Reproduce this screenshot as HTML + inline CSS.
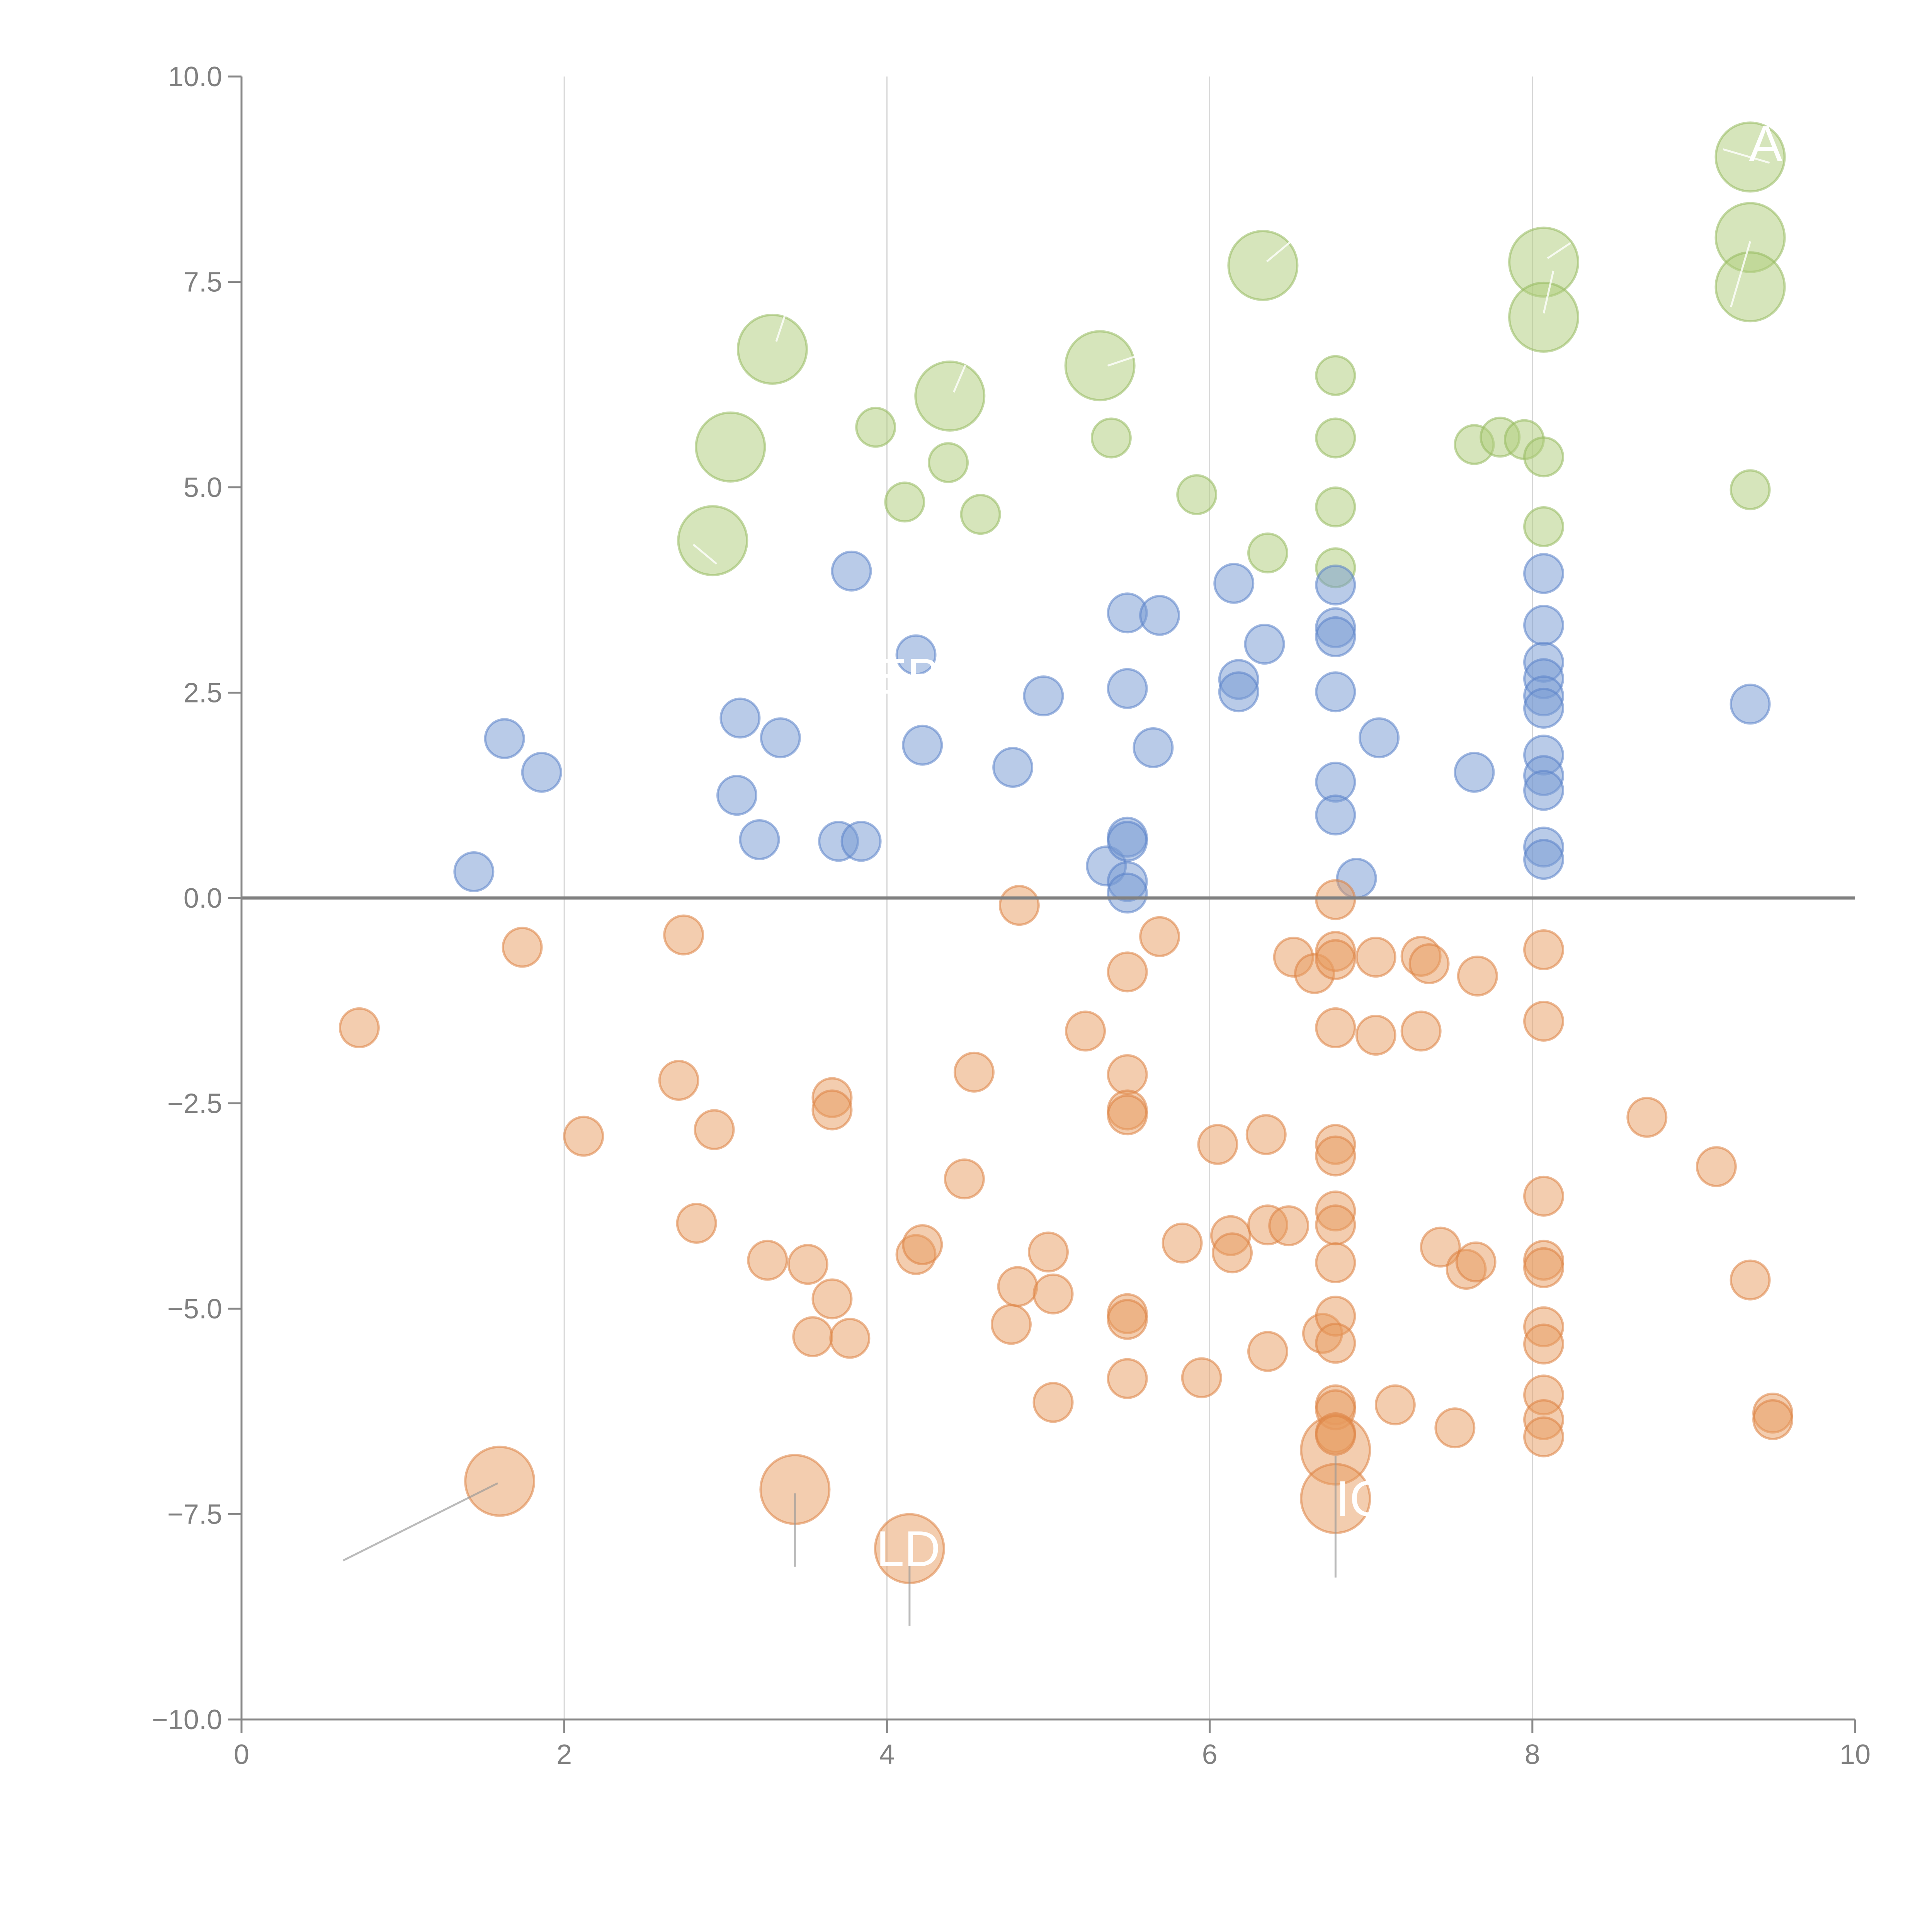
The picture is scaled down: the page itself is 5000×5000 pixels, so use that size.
<!DOCTYPE html>
<html><head><meta charset="utf-8"><style>html,body{margin:0;padding:0;background:#fff}svg{display:block}</style></head>
<body>
<svg id="chart" width="5000" height="5000" viewBox="0 0 5000 5000" xmlns="http://www.w3.org/2000/svg">
<g id="grid"></g>
<g id="marks"></g>
<g id="axes"></g>
<g id="ann"></g>
</svg>
<script>
const xTicks=[0,2,4,6,8,10];
const yTicks=[10,7.5,5,2.5,0,-2.5,-5,-7.5,-10];
const yTickLabels=["10.0","7.5","5.0","2.5","0.0","\u22122.5","\u22125.0","\u22127.5","\u221210.0"];
const greenX=[3.93,4.11,4.38,4.58,5.39,5.92,6.36,6.78,6.78,6.78,6.78,7.64,7.80,7.95,8.07,8.07,9.35];
const greenY=[5.73,4.82,5.30,4.67,5.60,4.91,4.20,6.36,5.60,4.76,4.02,5.52,5.61,5.58,5.37,4.52,4.97];
const greenBigX=[2.92,3.03,3.29,4.39,5.32,6.33,8.07,8.07,9.35,9.35,9.35];
const greenBigY=[4.35,5.49,6.68,6.11,6.48,7.70,7.74,7.07,9.02,8.04,7.44];
const blueX=[1.44,1.63,1.86,3.07,3.09,3.21,3.34,3.70,3.84,3.78,4.18,4.22,4.78,4.97,5.36,5.49,5.49,5.49,5.49,5.49,5.49,5.65,5.69,6.15,6.18,6.18,6.34,6.78,6.78,6.78,6.78,6.78,6.78,6.91,7.05,7.64,8.07,8.07,8.07,8.07,8.07,8.07,8.07,8.07,8.07,8.07,8.07,9.35];
const blueY=[0.32,1.94,1.53,1.25,2.19,0.71,1.95,0.69,0.69,3.98,2.96,1.86,1.59,2.46,0.39,3.47,2.55,0.74,0.69,0.20,0.06,1.83,3.44,3.83,2.66,2.51,3.09,3.81,3.29,3.18,2.51,1.41,1.01,0.24,1.95,1.53,3.95,3.32,2.87,2.67,2.46,2.31,1.74,1.49,1.31,0.62,0.47,2.36];
const orangeX=[0.73,1.74,2.12,2.71,2.74,2.82,2.93,3.26,3.51,3.54,3.66,3.66,3.66,3.77,4.18,4.22,4.48,4.54,4.77,4.81,4.82,5.00,5.03,5.03,5.23,5.49,5.49,5.49,5.49,5.49,5.49,5.49,5.69,5.83,5.95,6.05,6.13,6.14,6.35,6.36,6.36,6.49,6.52,6.65,6.70,6.78,6.78,6.78,6.78,6.78,6.78,6.78,6.78,6.78,6.78,6.78,6.78,6.78,6.78,6.78,7.03,7.03,7.15,7.31,7.31,7.36,7.43,7.52,7.59,7.65,7.66,8.07,8.07,8.07,8.07,8.07,8.07,8.07,8.07,8.07,8.07,8.71,9.14,9.35,9.49,9.49];
const orangeY=[-1.58,-0.60,-2.90,-2.22,-0.45,-3.96,-2.82,-4.41,-4.46,-5.34,-2.43,-2.58,-4.88,-5.36,-4.34,-4.22,-3.42,-2.12,-5.19,-4.73,-0.09,-4.31,-4.82,-6.14,-1.62,-0.90,-2.15,-2.58,-2.64,-5.06,-5.13,-5.85,-0.47,-4.20,-5.84,-3.00,-4.11,-4.32,-2.88,-3.98,-5.52,-3.99,-0.72,-0.92,-5.30,-0.02,-0.65,-0.75,-1.58,-3.00,-3.14,-3.81,-3.98,-4.44,-5.09,-5.42,-6.17,-6.23,-6.51,-6.54,-0.72,-1.67,-6.17,-0.71,-1.62,-0.80,-4.25,-6.45,-4.52,-4.43,-0.95,-0.63,-1.50,-3.63,-4.41,-4.50,-5.22,-5.43,-6.05,-6.35,-6.56,-2.67,-3.27,-4.65,-6.27,-6.35];
const orangeBigX=[1.60,3.43,4.14,6.78,6.78];
const orangeBigY=[-7.10,-7.20,-7.92,-6.72,-7.31];

const X0=625,X1=4801,Y0=198,Y1=4450;
function sx(v){return X0+(v-0)/(10-0)*(X1-X0);}
function sy(v){return Y0+(10-v)/(20)*(Y1-Y0);}
const NS="http://www.w3.org/2000/svg";
function mk(tag,attrs,parent){const e=document.createElementNS(NS,tag);for(const k in attrs)e.setAttribute(k,attrs[k]);parent.appendChild(e);return e;}
const grid=document.getElementById('grid'),marks=document.getElementById('marks'),axes=document.getElementById('axes'),ann=document.getElementById('ann');

xTicks.slice(1,5).forEach(t=>{
  const l=mk('line',{x1:sx(t),x2:sx(t),y1:Y0,y2:Y1,stroke:'#d6d6d6','stroke-width':3},grid);
  
  
});

function drawSeries(xs,ys,r,fill,stroke,name){
  xs.forEach((x,i)=>{
    const c=mk('circle',{cx:sx(x),cy:sy(ys[i]),r:r,fill:fill,stroke:stroke,'stroke-width':6},marks);
    
    
  });
}
const gF='rgba(176,205,125,0.52)',gS='rgba(150,185,95,0.55)';
const bF='rgba(120,155,210,0.52)',bS='rgba(90,130,200,0.55)';
const oF='rgba(232,155,95,0.5)',oS='rgba(220,130,65,0.55)';
drawSeries(greenBigX,greenBigY,89,gF,gS,'green-bubble-large');
drawSeries(greenX,greenY,50,gF,gS,'green-bubble');
drawSeries(blueX,blueY,50,bF,bS,'blue-bubble');
drawSeries(orangeBigX,orangeBigY,89,oF,oS,'orange-bubble-large');
drawSeries(orangeX,orangeY,50,oF,oS,'orange-bubble');

let z=mk('line',{x1:X0,x2:X1,y1:sy(0),y2:sy(0),stroke:'#808080','stroke-width':8},axes);


let ya=mk('line',{x1:X0,x2:X0,y1:Y0,y2:Y1,stroke:'#888','stroke-width':5},axes);


let xa=mk('line',{x1:X0,x2:X1,y1:Y1,y2:Y1,stroke:'#888','stroke-width':5},axes);



yTicks.forEach((t,i)=>{
  const tk=mk('line',{x1:X0-35,x2:X0,y1:sy(t),y2:sy(t),stroke:'#888','stroke-width':5},axes);
  
  
  const tx=mk('text',{x:X0-50,y:sy(t)+25,'text-anchor':'end','font-family':'Liberation Sans, sans-serif','font-size':72,fill:'#808080'},axes);
  tx.textContent=yTickLabels[i];
  
  
});
xTicks.forEach(t=>{
  const tk=mk('line',{x1:sx(t),x2:sx(t),y1:Y1,y2:Y1+35,stroke:'#888','stroke-width':5},axes);
  
  
  const tx=mk('text',{x:sx(t),y:Y1+115,'text-anchor':'middle','font-family':'Liberation Sans, sans-serif','font-size':72,fill:'#808080'},axes);
  tx.textContent=String(t);
  
  
});

function leader(x,y,dx1,dy1,dx2,dy2,col){
  const l=mk('line',{x1:sx(x)+dx1,y1:sy(y)+dy1,x2:sx(x)+dx2,y2:sy(y)+dy2,stroke:col,'stroke-width':5},ann);
  
  
}
leader(1.60,-7.10,-5,5,-405,205,'rgba(150,150,150,0.65)');
leader(3.43,-7.20,0,10,0,200,'rgba(150,150,150,0.65)');
leader(4.14,-7.92,0,15,0,200,'rgba(150,150,150,0.65)');
leader(6.78,-6.72,0,15,0,330,'rgba(150,150,150,0.65)');
leader(9.35,9.02,-70,-20,50,15,'rgba(255,255,255,0.8)');
leader(9.35,8.04,0,10,-50,180,'rgba(255,255,255,0.8)');
leader(8.07,7.74,10,-10,70,-50,'rgba(255,255,255,0.8)');
leader(8.07,7.07,0,-10,25,-120,'rgba(255,255,255,0.8)');
leader(6.33,7.70,10,-10,70,-60,'rgba(255,255,255,0.8)');
leader(5.32,6.48,20,0,110,-30,'rgba(255,255,255,0.8)');
leader(4.39,6.11,10,-10,40,-80,'rgba(255,255,255,0.8)');
leader(3.29,6.68,10,-20,40,-110,'rgba(255,255,255,0.8)');
leader(2.92,4.35,10,60,-50,10,'rgba(255,255,255,0.8)');

function label(x,y,dx,dy,txt,anchor){
  const t=mk('text',{x:sx(x)+dx,y:sy(y)+dy,'text-anchor':anchor,'font-family':'Liberation Sans, sans-serif','font-size':130,fill:'#ffffff'},ann);
  t.textContent=txt;
  
  
}
label(4.14,-7.92,80,45,'LD','end');
label(6.78,-7.31,0,45,'IC','start');
label(9.35,9.02,40,10,'A','middle');
label(4.14,2.7,80,45,'EB','end');
</script>
</body></html>
